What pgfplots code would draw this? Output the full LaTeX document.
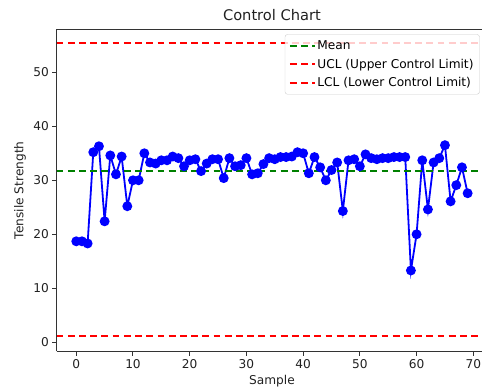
\documentclass[border=0pt]{standalone}
\usepackage{fontspec}
\setmainfont{DejaVu Sans}
\usepackage{pgfplots}
\pgfplotsset{compat=1.18}
\definecolor{mplgreen}{rgb}{0,0.5,0}
\definecolor{txt}{gray}{0.13}
\pgfplotstableread{
x y
0 18.7
1 18.7
2 18.3
3 35.2
4 36.3
5 22.4
6 34.6
7 31.1
8 34.4
9 25.2
10 30.0
11 30.0
12 35.0
13 33.3
14 33.1
15 33.7
16 33.7
17 34.4
18 34.1
19 32.6
20 33.7
21 33.9
22 31.7
23 33.1
24 33.9
25 33.9
26 30.4
27 34.1
28 32.6
29 32.8
30 34.1
31 31.1
32 31.3
33 33.0
34 34.1
35 33.9
36 34.3
37 34.3
38 34.4
39 35.2
40 35.0
41 31.3
42 34.3
43 32.4
44 30.0
45 31.9
46 33.3
47 24.3
48 33.7
49 33.9
50 32.6
51 34.8
52 34.1
53 33.9
54 34.1
55 34.1
56 34.3
57 34.3
58 34.3
59 13.3
60 20.0
61 33.7
62 24.6
63 33.3
64 34.1
65 36.5
66 26.1
67 29.1
68 32.4
69 27.6
}\datatable
\begin{document}
\begin{tikzpicture}
\useasboundingbox (-56.7bp,-37.7bp) rectangle (425.3bp,351.3bp);
\clip (-56.7bp,-37.7bp) rectangle (425.3bp,351.3bp);
\begin{axis}[
  at={(0,0)}, anchor=south west,
  scale only axis, width=430.5bp, height=322bp,
  xmin=-3.45, xmax=72.45, ymin=-1.67, ymax=57.96,
  xtick={0,10,...,70}, ytick={0,10,...,50},
  axis x line*=box, axis y line*=left,
  tick align=outside, major tick length=4.3bp,
  xtick pos=bottom, ytick pos=left,
  axis line style={line width=1bp, black!80},
  tick style={line width=1bp, black!80},
  /pgf/number format/assume math mode=true,
  tick label style={font=\fontsize{12.2}{14}\selectfont, color=txt},
  xticklabel style={yshift=-0.5bp},
  title={Control Chart},
  title style={font=\fontsize{14.7}{17}\selectfont, color=txt, at={(0.5,1)}, anchor=base, inner sep=0pt, yshift=3bp},
  xlabel={Sample}, ylabel={Tensile Strength},
  label style={font=\fontsize{12.2}{14}\selectfont, color=txt},
  xlabel style={at={(0.5,0)}, anchor=base, inner sep=0pt, yshift=-33.5bp},
  ylabel style={at={(0,0.5)}, anchor=center, inner sep=0pt, yshift=36.7bp},
  legend style={at={(1,1)}, anchor=north east, xshift=-7.5bp, yshift=-5bp,
    font=\fontsize{12.2}{14}\selectfont, draw=black!20, rounded corners=2.5bp,
    fill=white, fill opacity=0.8, text opacity=1, inner xsep=4bp, inner ysep=4bp,
    row sep=4bp},
  legend cell align=left,
  legend image code/.code={\draw[#1] (0bp,0bp) -- (24.6bp,0bp);},
]
\addplot[blue, line width=1.8bp, mark=*, mark size=4bp, mark options={solid, fill=blue, draw=blue}, forget plot] table[x=x,y=y] {\datatable};
\addplot[color=mplgreen, line width=1.8bp, dash pattern=on 6.8bp off 4.4bp] coordinates {(-3.45,31.7) (72.45,31.7)};
\addlegendentry{Mean}
\addplot[color=red, line width=1.8bp, dash pattern=on 6.8bp off 4.4bp] coordinates {(-3.45,55.4) (72.45,55.4)};
\addlegendentry{UCL (Upper Control Limit)}
\addplot[color=red, line width=1.8bp, dash pattern=on 6.8bp off 4.4bp] coordinates {(-3.45,1.2) (72.45,1.2)};
\addlegendentry{LCL (Lower Control Limit)}
\end{axis}
\end{tikzpicture}
\end{document}
